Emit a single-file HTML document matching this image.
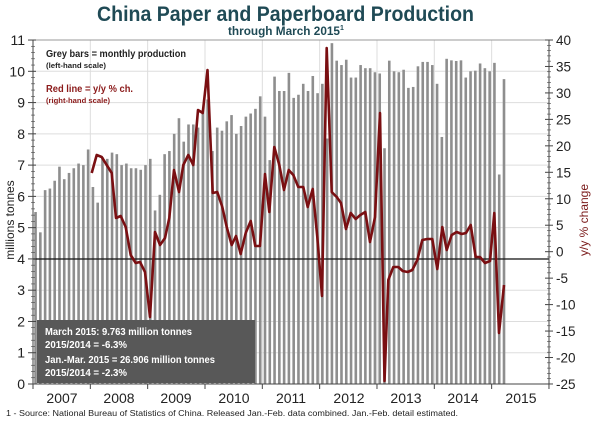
<!DOCTYPE html>
<html><head><meta charset="utf-8"><style>
html,body{margin:0;padding:0;background:#fff;}
svg{display:block;font-family:"Liberation Sans",sans-serif;}
</style></head><body>
<svg id="s" width="600" height="425" viewBox="0 0 600 425" xmlns="http://www.w3.org/2000/svg">
<text x="97" y="21" textLength="377" lengthAdjust="spacingAndGlyphs" font-size="21" font-weight="bold" fill="#1f4a55">China Paper and Paperboard Production</text>
<text x="228" y="35" font-size="11.5" font-weight="bold" fill="#1f4a55"><tspan textLength="112" lengthAdjust="spacingAndGlyphs">through March 2015</tspan><tspan font-size="7" dy="-5">1</tspan></text>
<g id="grid"></g>
<g id="bars"></g>
<line x1="33" y1="259" x2="549" y2="259" stroke="#111" stroke-width="1.3"/>
<polyline id="ln" fill="none" stroke="#7a0f12" stroke-width="2.6" stroke-linejoin="round"/>
<rect x="37" y="320" width="218" height="63" fill="#585858"/>
<g font-size="10.5" font-weight="bold" fill="#fff" lengthAdjust="spacingAndGlyphs">
<text x="45" y="335" textLength="147" lengthAdjust="spacingAndGlyphs">March 2015: 9.763 million tonnes</text>
<text x="45" y="348" textLength="82" lengthAdjust="spacingAndGlyphs">2015/2014 = -6.3%</text>
<text x="45" y="363" textLength="170" lengthAdjust="spacingAndGlyphs">Jan.-Mar. 2015 = 26.906 million tonnes</text>
<text x="45" y="376" textLength="82" lengthAdjust="spacingAndGlyphs">2015/2014 = -2.3%</text>
</g>
<g font-weight="bold">
<text x="46" y="57" font-size="10.5" fill="#222" textLength="140" lengthAdjust="spacingAndGlyphs">Grey bars = monthly production</text>
<text x="46" y="68" font-size="7.5" fill="#222" textLength="60" lengthAdjust="spacingAndGlyphs">(left-hand scale)</text>
<text x="46" y="92" font-size="10.5" fill="#8b1a1a" textLength="87" lengthAdjust="spacingAndGlyphs">Red line = y/y % ch.</text>
<text x="46" y="103" font-size="7.5" fill="#8b1a1a" textLength="64" lengthAdjust="spacingAndGlyphs">(right-hand scale)</text>
</g>
<g id="axes"></g>
<text transform="translate(14,220) rotate(-90)" text-anchor="middle" font-size="12" fill="#222">millions tonnes</text>
<text transform="translate(588,220) rotate(-90)" text-anchor="middle" font-size="12" fill="#7a1a1a">y/y % change</text>
<g font-size="14" fill="#222" text-anchor="middle">
<text x="62" y="403">2007</text><text x="119" y="403">2008</text><text x="176" y="403">2009</text><text x="234" y="403">2010</text><text x="291" y="403">2011</text><text x="349" y="403">2012</text><text x="406" y="403">2013</text><text x="463" y="403">2014</text><text x="521" y="403">2015</text>
</g>
<text x="6" y="416" font-size="8.6" fill="#222" textLength="452" lengthAdjust="spacingAndGlyphs">1 - Source: National Bureau of Statistics of China. Released Jan.-Feb. data combined. Jan.-Feb. detail estimated.</text>
</svg>
<script>
var NS="http://www.w3.org/2000/svg";
function el(p,t,a){var e=document.createElementNS(NS,t);for(var k in a)e.setAttribute(k,a[k]);document.getElementById(p).appendChild(e);return e;}
var Y=function(v){return 384-v*31.27;};
var g="grid";
for(var v=1;v<=11;v++)el(g,"line",{x1:33,x2:549,y1:Y(v),y2:Y(v),stroke:"#ddd","stroke-width":1});
for(var k=1;k<=8;k++){var x=33+k*57.33;el(g,"line",{x1:x,x2:x,y1:40,y2:384,stroke:"#ddd","stroke-width":1});}
var d=[5.5,4.85,6.2,6.25,6.5,6.95,6.55,6.75,6.9,7.05,7.0,7.5,
6.3,5.8,7.25,7.2,7.4,7.35,7.0,7.05,6.9,6.9,6.85,7.0,7.2,
5.55,6.05,7.35,7.45,8.0,8.5,7.75,8.3,8.3,8.2,8.75,9.1,
7.45,8.2,8.1,8.4,8.6,8.0,8.25,8.55,8.65,8.8,9.2,8.55,
7.16,9.83,9.37,9.37,9.95,9.15,9.25,9.6,9.37,9.85,9.3,9.6,
7.85,10.9,10.34,10.2,10.37,9.8,9.8,10.2,10.1,10.1,9.97,9.93,
7.54,10.34,10.0,9.97,10.05,9.47,9.5,10.16,10.3,10.3,10.2,9.6,
7.9,10.4,10.35,10.33,10.35,9.8,10.0,10.02,10.25,10.1,10.0,10.27,
6.7,9.75];
var N=d.length;
for(var j=0;j<N;j++){var cx=504-(N-1-j)*4.78;el("bars","rect",{x:cx-1.3,y:Y(d[j]),width:2.6,height:384-Y(d[j]),fill:"#8e8e8e"});}
var pts="91.7,173 96.7,155 101.7,157 106.7,165 111.7,173 116,218 120.7,216 125.7,227 130.7,255 135.7,263 140,262 145,272 150,317 155,232 160,245 165,238 169.3,218 174,170 179,192 183.3,165 188.3,155 193.3,165 198,110 202.7,113 207.5,70 212.7,193 217.3,192 222.3,207 226.7,227 231.7,245 236,236 240.7,254 245.7,233 250.7,221 255.3,246 260,246 265,174 269.3,212 274.3,147 279.3,165 284,190 288.7,170 293.3,175 298.3,187 303.3,187 307.7,207 312.7,189 317.3,237 322,296 326.7,48 331.7,192 336.7,197 341,203 346,229 350.7,213 355.7,219 360.3,215 365.3,212 370,242 375,217 380,113 384.5,381 388.3,280 393.3,267 398.3,267 402.7,271 407.7,272 412.3,270 417.3,260 422.3,240 427.3,239 432.3,239 437.3,269 442.3,227 446.7,250 451.7,235 456.7,232 461.7,234 466,233 470.7,225 475.7,257 480,257 485,263 490,261 494.3,213 499,333 504,285";
document.getElementById("ln").setAttribute("points",pts);
var a="axes";
el(a,"line",{x1:33,x2:33,y1:40,y2:384,stroke:"#444","stroke-width":1});
el(a,"line",{x1:549,x2:549,y1:40,y2:384,stroke:"#444","stroke-width":1});
el(a,"line",{x1:33,x2:549,y1:384,y2:384,stroke:"#444","stroke-width":1});
el(a,"line",{x1:33,x2:549,y1:40,y2:40,stroke:"#999","stroke-width":1});
for(var v=0;v<=11;v+=0.2){var y=Y(v),maj=Math.abs(v-Math.round(v))<0.01;el(a,"line",{x1:maj?28:31,x2:maj?36:35,y1:y,y2:y,stroke:"#444","stroke-width":maj?1:0.6});}
for(var v=0;v<=11;v++){var t=el(a,"text",{x:25,y:Y(v)+5,"text-anchor":"end","font-size":14,fill:"#222"});t.textContent=v;}
var R=function(p){return 40+(40-p)*5.292;};
for(var p=-25;p<=40;p++){var y=R(p),maj=p%5==0;el(a,"line",{x1:maj?545:547,x2:maj?553:551,y1:y,y2:y,stroke:"#444","stroke-width":maj?1:0.6});}
for(var p=-25;p<=40;p+=5){var t=el(a,"text",{x:556,y:R(p)+5,"font-size":13.5,fill:"#222"});t.textContent=p;}
for(var k=0;k<=9;k++){var x=33+k*57.33;el(a,"line",{x1:x,x2:x,y1:384,y2:389,stroke:"#444","stroke-width":1});}
</script>
</body></html>
